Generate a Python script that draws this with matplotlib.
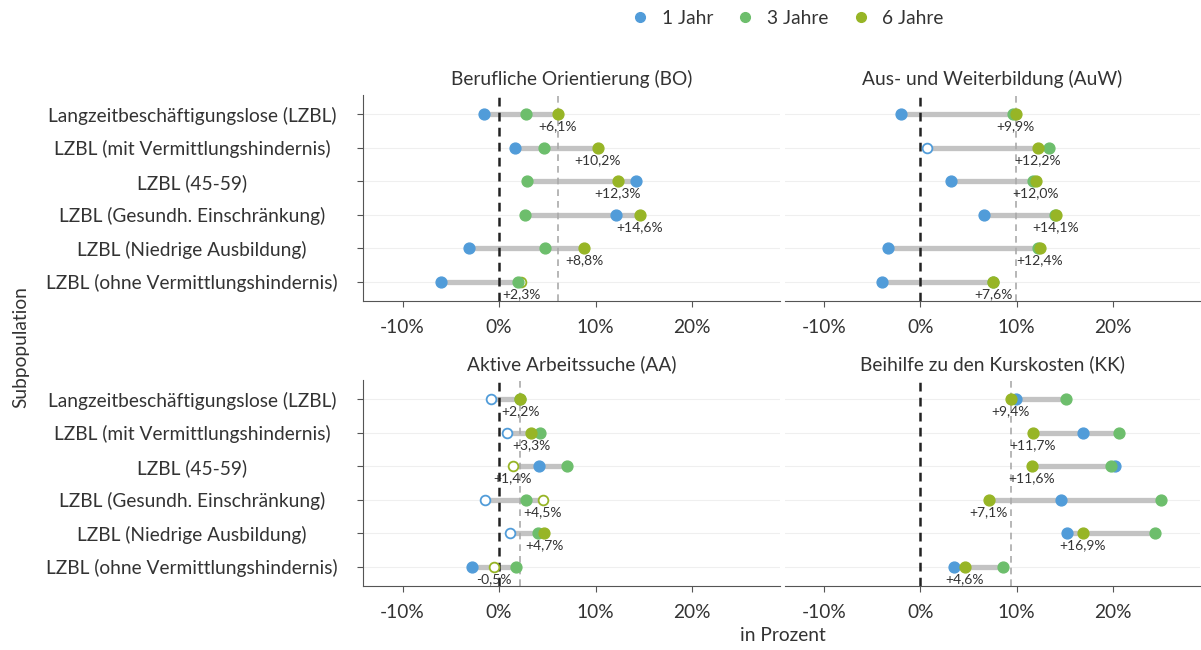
import matplotlib.pyplot as plt
from matplotlib.lines import Line2D

plt.rcParams['font.family'] = ['Lato', 'DejaVu Sans']

# Subpopulationen (von oben nach unten)
groups = ['Langzeitbeschäftigungslose (LZBL)', 'LZBL (mit Vermittlungshindernis)',
          'LZBL (45-59)', 'LZBL (Gesundh. Einschränkung)',
          'LZBL (Niedrige Ausbildung)', 'LZBL (ohne Vermittlungshindernis)']

panels = ['Berufliche Orientierung (BO)', 'Aus- und Weiterbildung (AuW)',
          'Aktive Arbeitssuche (AA)', 'Beihilfe zu den Kurskosten (KK)']

# Effekte in Prozent
bo_1 = [-1.6, 1.6, 14.2, 12.1, -3.1, -6.0]
bo_3 = [2.8, 4.6, 2.9, 2.7, 4.8, 2.0]
bo_6 = [6.1, 10.2, 12.3, 14.6, 8.8, 2.3]
auw_1 = [-2.0, 0.7, 3.2, 6.6, -3.4, -4.0]
auw_3 = [9.6, 13.4, 11.7, 14.0, 12.2, 7.5]
auw_6 = [9.9, 12.2, 12.0, 14.1, 12.4, 7.6]
aa_1 = [-0.8, 0.8, 4.1, -1.5, 1.1, -2.8]
aa_3 = [2.2, 4.2, 7.0, 2.8, 4.0, 1.8]
aa_6 = [2.2, 3.3, 1.4, 4.5, 4.7, -0.5]
kk_1 = [9.9, 16.9, 20.2, 14.6, 15.3, 3.5]
kk_3 = [15.1, 20.7, 19.8, 25.0, 24.4, 8.6]
kk_6 = [9.4, 11.7, 11.6, 7.1, 16.9, 4.6]

# signifikant (True = ausgefuellter Punkt)
bo_sig = [[1]*6, [1]*6, [1, 1, 1, 1, 1, 0]]
auw_sig = [[1, 0, 1, 1, 1, 1], [1]*6, [1]*6]
aa_sig = [[0, 0, 1, 0, 0, 1], [1]*6, [1, 1, 0, 0, 1, 0]]
kk_sig = [[1]*6, [1]*6, [1]*6]

series = ['1 Jahr', '3 Jahre', '6 Jahre']
colors = ['#519cd9', '#6dbe6c', '#97b526']

data = [(bo_1, bo_3, bo_6, bo_sig), (auw_1, auw_3, auw_6, auw_sig),
        (aa_1, aa_3, aa_6, aa_sig), (kk_1, kk_3, kk_6, kk_sig)]

txt = '#333333'
fs = 13.8
fig = plt.figure(figsize=(12.01, 6.5), dpi=100)
W, H = 1201, 650
boxes = [(363, 95, 780, 301), (785, 95, 1200, 301),
         (363, 380, 780, 586), (785, 380, 1200, 586)]

ypos = list(range(len(groups)))
for i, (box, title, (v1, v3, v6, sig)) in enumerate(zip(boxes, panels, data)):
    x0, y0, x1, y1 = box
    ax = fig.add_axes([x0 / W, 1 - y1 / H, (x1 - x0) / W, (y1 - y0) / H])
    vals = [v1, v3, v6]
    for y in ypos:
        ax.axhline(y, color='#efefef', lw=0.8, zorder=0)
        lo = min(v[y] for v in vals)
        hi = max(v[y] for v in vals)
        ax.plot([lo, hi], [y, y], color='#c3c3c3', lw=3.8, solid_capstyle='butt', zorder=2)
    ax.axvline(0, color='#222222', lw=1.8, ls=(0, (3.5, 2.5)), zorder=2.5)
    ax.axvline(v6[0], color='#aaaaaa', lw=1.2, ls=(0, (4, 3)), zorder=2.5)
    for k, (v, c) in enumerate(zip(vals, colors)):
        for y in ypos:
            if sig[k][y]:
                ax.plot(v[y], y, 'o', ms=7.8, color=c, mec=c, zorder=4 + k)
            else:
                ax.plot(v[y], y, 'o', ms=7.0, mfc='white', mec=c, mew=1.3, zorder=3)
    for y in ypos:
        lab = f'{v6[y]:+.1f}'.replace('.', ',') + '%'
        ax.annotate(lab, (v6[y], y), xytext=(0, -4.5), textcoords='offset points',
                    ha='center', va='top', fontsize=10, color=txt, zorder=8)
    ax.set_xlim(-14.1, 29.1)
    ax.set_ylim(len(groups) - 0.43, -0.57)
    ax.set_xticks([-10, 0, 10, 20])
    ax.set_xticklabels(['-10%', '0%', '10%', '20%'])
    ax.set_title(title, fontsize=fs, color=txt, pad=7)
    for s in ['top', 'right']:
        ax.spines[s].set_visible(False)
    ax.spines['bottom'].set_color('#555555')
    ax.spines['left'].set_color('#555555')
    ax.tick_params(axis='x', colors='#555555', labelcolor=txt, labelsize=fs,
                   length=4, pad=9)
    if i % 2 == 0:
        ax.set_yticks(ypos)
        ax.set_yticklabels(groups, ha='center')
        ax.tick_params(axis='y', colors='#555555', labelcolor=txt, labelsize=fs,
                       length=4, pad=119)
    else:
        ax.spines['left'].set_visible(False)
        ax.set_yticks([])

handles = [Line2D([], [], marker='o', ls='', color=c, ms=7) for c in colors]
fig.legend(handles, series, loc='center', bbox_to_anchor=(0.656, 0.972), ncol=3,
           frameon=False, fontsize=fs, handlelength=0.8, handletextpad=0.7,
           columnspacing=1.3, labelcolor=txt)
fig.text(0.652, 0.022, 'in Prozent', ha='center', va='center', fontsize=fs, color=txt)
fig.text(0.017, 0.466, 'Subpopulation', ha='center', va='center', rotation=90,
         fontsize=fs, color=txt)

fig.savefig('out.png', dpi=100)
